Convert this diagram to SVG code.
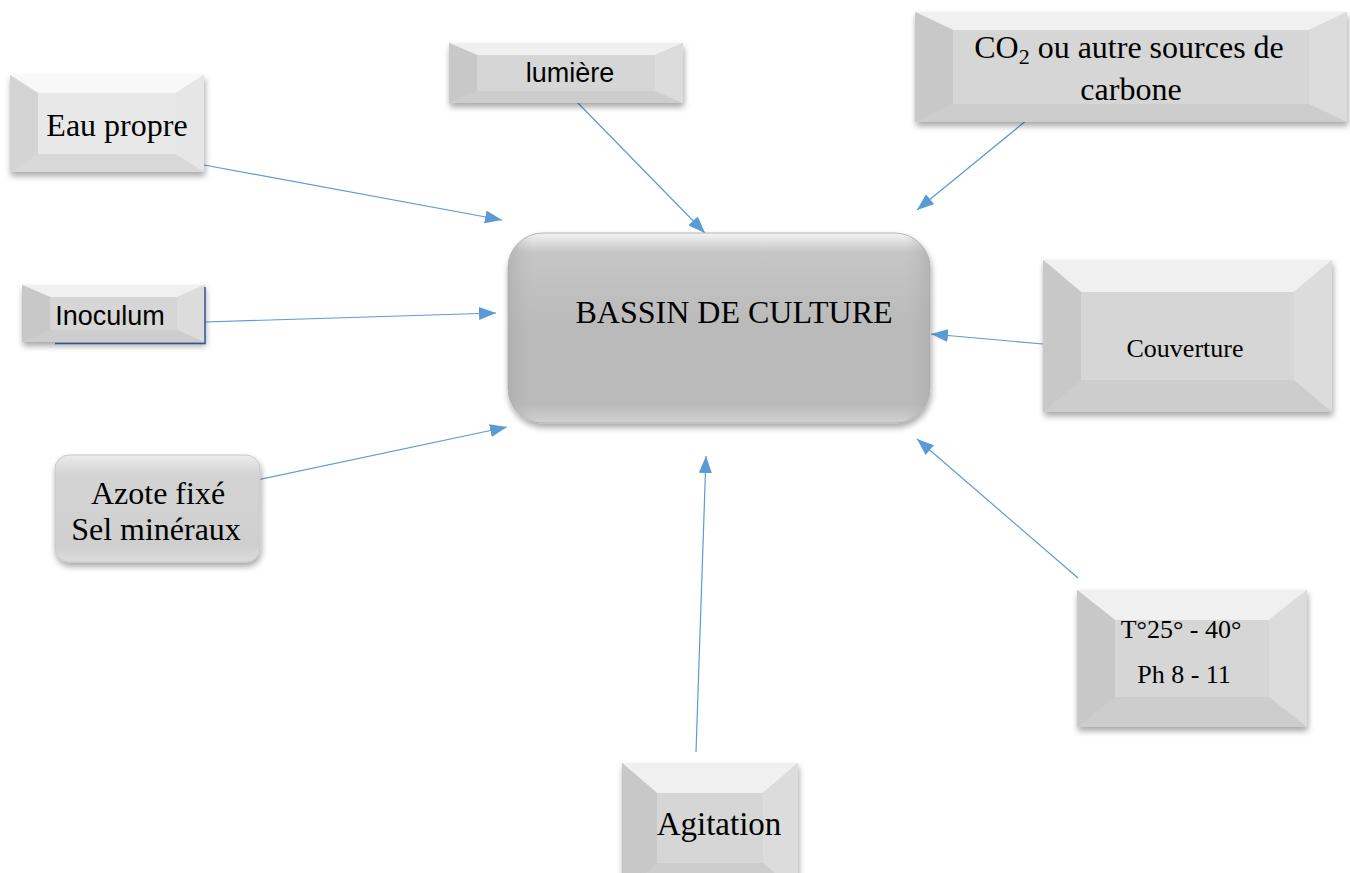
<svg xmlns="http://www.w3.org/2000/svg" width="1350" height="873" viewBox="0 0 1350 873">
<defs>
<filter id="sh" x="-10%" y="-10%" width="125%" height="135%">
<feDropShadow dx="1" dy="4" stdDeviation="3" flood-color="#000" flood-opacity="0.35"/>
</filter>
<marker id="ah" viewBox="0 0 17 13" refX="17" refY="6.5" markerWidth="17" markerHeight="13" markerUnits="userSpaceOnUse" orient="auto">
<path d="M0,0 L17,6.5 L0,13 z" fill="#5b9bd5"/>
</marker>
<linearGradient id="gBassin" x1="0" y1="0" x2="0" y2="1">
<stop offset="0" stop-color="#f4f4f4"/>
<stop offset="0.1" stop-color="#c6c6c6"/>
<stop offset="0.5" stop-color="#bababa"/>
<stop offset="0.9" stop-color="#bababa"/>
<stop offset="1" stop-color="#d0d0d0"/>
</linearGradient>
<linearGradient id="gBassinH" x1="0" y1="0" x2="1" y2="0">
<stop offset="0" stop-color="#a8a8a8" stop-opacity="0.6"/>
<stop offset="0.06" stop-color="#bababa" stop-opacity="0"/>
<stop offset="0.94" stop-color="#bababa" stop-opacity="0"/>
<stop offset="1" stop-color="#a8a8a8" stop-opacity="0.6"/>
</linearGradient>
<linearGradient id="gAzote" x1="0" y1="0" x2="0" y2="1">
<stop offset="0" stop-color="#ececec"/>
<stop offset="0.18" stop-color="#d4d4d4"/>
<stop offset="0.85" stop-color="#cfcfcf"/>
<stop offset="1" stop-color="#dcdcdc"/>
</linearGradient>
</defs>
<style>
.bb{fill:#cdcdcd}
.bt{fill:#f0f0f0}
.bl{fill:#c8c8c8}
.br{fill:#dcdcdc}
.bc{fill:#d6d6d6}
.lt .bb{fill:#d8d8d8}
.lt .bt{fill:#f8f8f8}
.lt .bl{fill:#d4d4d4}
.lt .br{fill:#e6e6e6}
.lt .bc{fill:#e8e8e8}
.tr{font-family:"Liberation Serif","Times New Roman",serif;fill:#000;text-anchor:middle}
.ts{font-family:"Liberation Sans",Arial,sans-serif;fill:#000;text-anchor:middle}
.cn{stroke:#5b9bd5;stroke-width:1.2;fill:none;marker-end:url(#ah)}
</style>
<rect width="1350" height="873" fill="#fff"/>

<g id="connectors">
<path class="cn" d="M204,165 L502,220"/>
<path class="cn" d="M577,102 L705,233"/>
<path class="cn" d="M1027,120 L917,210"/>
<path class="cn" d="M205,322 L496,313"/>
<path class="cn" d="M243,483 L507,427"/>
<path class="cn" d="M1043,344 L931,334"/>
<path class="cn" d="M1078,578 L917,439"/>
<path class="cn" d="M696,752 L706,456"/>
</g>

<g id="n-bassin">
<rect x="508" y="233" width="422" height="190" rx="35" fill="url(#gBassin)" stroke="#b4b4b4" stroke-width="1" filter="url(#sh)"/>
<rect x="508" y="233" width="422" height="190" rx="35" fill="url(#gBassinH)"/>
<text class="tr" x="734" y="323" font-size="32">BASSIN DE CULTURE</text>
</g>

<g id="n-eau" class="lt">
<rect class="bb" x="10" y="75" width="194" height="97" filter="url(#sh)"/>
<polygon class="bt" points="10,75 204,75 176,93 38,93"/>
<polygon class="bl" points="10,75 38,93 38,154 10,172"/>
<polygon class="br" points="204,75 204,172 176,154 176,93"/>
<rect class="bc" x="38" y="93" width="138" height="61"/>
<text class="tr" x="117" y="136" font-size="32">Eau propre</text>
</g>

<g id="n-lumiere">
<rect class="bb" x="449" y="43" width="234" height="60" filter="url(#sh)"/>
<polygon class="bt" points="449,43 683,43 655,55 477,55"/>
<polygon class="bl" points="449,43 477,55 477,91 449,103"/>
<polygon class="br" points="683,43 683,103 655,91 655,55"/>
<rect class="bc" x="477" y="55" width="178" height="36"/>
<text class="ts" x="570" y="82" font-size="27">lumière</text>
</g>

<g id="n-co2">
<rect class="bb" x="915" y="12" width="432" height="110" filter="url(#sh)"/>
<polygon class="bt" points="915,12 1347,12 1309,30 953,30"/>
<polygon class="bl" points="915,12 953,30 953,104 915,122"/>
<polygon class="br" points="1347,12 1347,122 1309,104 1309,30"/>
<rect class="bc" x="953" y="30" width="356" height="74"/>
<text class="tr" x="1129" y="58" font-size="32">CO<tspan font-size="22" dy="6">2</tspan><tspan dy="-6"> ou autre sources de</tspan></text>
<text class="tr" x="1131" y="100" font-size="32">carbone</text>
</g>

<g id="n-inoculum">
<rect class="bb" x="22" y="285" width="183" height="57" filter="url(#sh)"/>
<polygon class="bt" points="22,285 205,285 177,297 50,297"/>
<polygon class="bl" points="22,285 50,297 50,330 22,342"/>
<polygon class="br" points="205,285 205,342 177,330 177,297"/>
<rect class="bc" x="50" y="297" width="127" height="33"/>
<path d="M55,343.5 L205,343.5 L205,287" fill="none" stroke="#2f5597" stroke-width="1.5"/>
<text class="ts" x="110" y="325" font-size="27">Inoculum</text>
</g>

<g id="n-azote">
<rect x="55" y="455" width="205" height="107" rx="14" fill="url(#gAzote)" stroke="#c8c8c8" stroke-width="1" filter="url(#sh)"/>
<text class="tr" x="158" y="504" font-size="32">Azote fixé</text>
<text class="tr" x="156" y="540" font-size="32">Sel minéraux</text>
</g>

<g id="n-couverture">
<rect class="bb" x="1043" y="260" width="289" height="152" filter="url(#sh)"/>
<polygon class="bt" points="1043,260 1332,260 1294,292 1081,292"/>
<polygon class="bl" points="1043,260 1081,292 1081,380 1043,412"/>
<polygon class="br" points="1332,260 1332,412 1294,380 1294,292"/>
<rect class="bc" x="1081" y="292" width="213" height="88"/>
<text class="tr" x="1185" y="357" font-size="26">Couverture</text>
</g>

<g id="n-temp">
<rect class="bb" x="1077" y="590" width="230" height="137" filter="url(#sh)"/>
<polygon class="bt" points="1077,590 1307,590 1269,620 1115,620"/>
<polygon class="bl" points="1077,590 1115,620 1115,697 1077,727"/>
<polygon class="br" points="1307,590 1307,727 1269,697 1269,620"/>
<rect class="bc" x="1115" y="620" width="154" height="77"/>
<text class="tr" x="1181" y="638" font-size="26">T°25° - 40°</text>
<text class="tr" x="1184" y="683" font-size="26">Ph 8 - 11</text>
</g>

<g id="n-agitation">
<rect class="bb" x="622" y="763" width="176" height="130" filter="url(#sh)"/>
<polygon class="bt" points="622,763 798,763 763,793 657,793"/>
<polygon class="bl" points="622,763 657,793 657,863 622,893"/>
<polygon class="br" points="798,763 798,893 763,863 763,793"/>
<rect class="bc" x="657" y="793" width="106" height="70"/>
<text class="tr" x="719" y="835" font-size="33">Agitation</text>
</g>
</svg>
